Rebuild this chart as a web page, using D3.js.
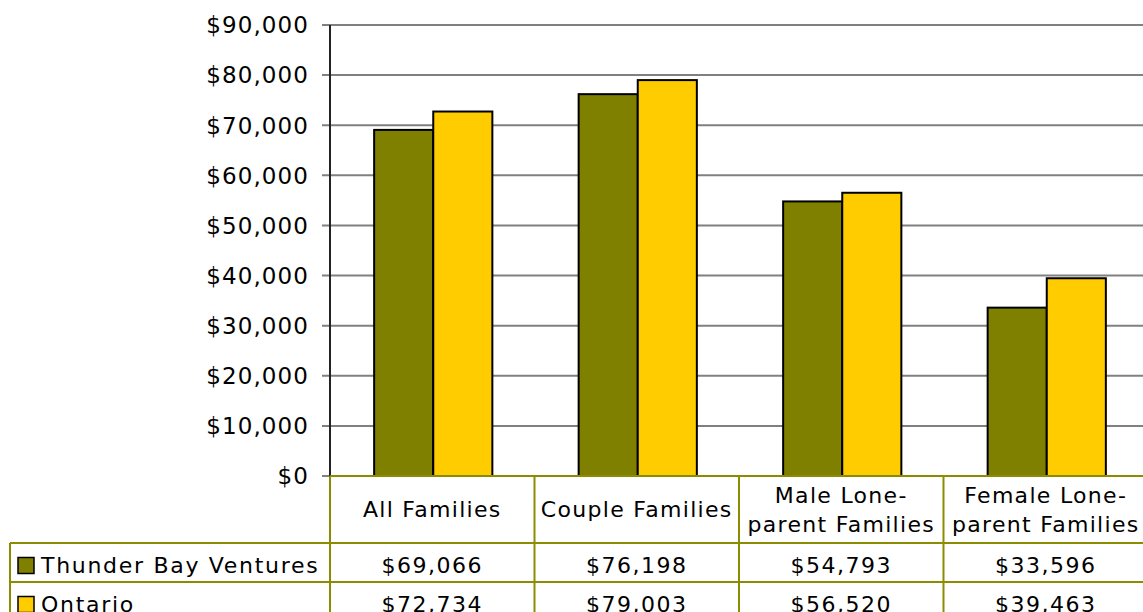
<!DOCTYPE html>
<html>
<head>
<meta charset="utf-8">
<script src="https://cdn.jsdelivr.net/npm/d3@7"></script>
<style>
  body { margin: 0; background: #fff; }
  svg text { font-family: "DejaVu Sans", Verdana, sans-serif; fill: #000; }
</style>
</head>
<body>
<div id="chart"></div>
<script>
// categories (header lines) and series
const categories = ["All Families", "Couple Families", "Male Lone-parent Families", "Female Lone-parent Families"];
const categoryLines = [["All Families"], ["Couple Families"], ["Male Lone-", "parent Families"], ["Female Lone-", "parent Families"]];
const seriesNames = ["Thunder Bay Ventures", "Ontario"];
const thunderBay = [69066, 76198, 54793, 33596];
const ontario = [72734, 79003, 56520, 39463];
const yTicks = [0, 10000, 20000, 30000, 40000, 50000, 60000, 70000, 80000, 90000];

const colors = ["#808000", "#ffcc00"];
const tableColor = "#8c8c00";

const W = 1143, H = 612;
const plot = {left: 330, top: 25, right: 1148, bottom: 476};

const svg = d3.select("#chart").append("svg")
  .attr("width", W)
  .attr("height", H);

const x = d3.scaleBand()
  .domain(categories)
  .range([plot.left, plot.right])
  .paddingInner(0)
  .paddingOuter(0);

const x1 = d3.scaleBand()
  .domain(seriesNames)
  .range([0, x.bandwidth()])
  .paddingOuter(0.73)
  .paddingInner(0);

const y = d3.scaleLinear()
  .domain([0, 90000])
  .range([plot.bottom, plot.top]);

// gridlines
svg.append("g")
  .selectAll("line")
  .data(yTicks)
  .join("line")
  .attr("x1", plot.left - 8)
  .attr("x2", plot.right)
  .attr("y1", d => y(d))
  .attr("y2", d => y(d))
  .attr("stroke", "#808080")
  .attr("stroke-width", 2);

// y axis labels
const fmt = d3.format(",");
svg.append("g")
  .selectAll("text")
  .data(yTicks)
  .join("text")
  .attr("x", plot.left - 21)
  .attr("y", d => y(d))
  .attr("dy", "0.36em")
  .attr("text-anchor", "end")
  .attr("font-size", 23)
  .attr("letter-spacing", 1.1)
  .text(d => "$" + fmt(d));

// bars
const series = [thunderBay, ontario];
const barG = svg.append("g");
series.forEach(function (vals, si) {
  barG.selectAll("rect.s" + si)
    .data(vals)
    .join("rect")
    .attr("class", "s" + si)
    .attr("x", (d, i) => x(categories[i]) + x1(seriesNames[si]) + 1)
    .attr("width", x1.bandwidth())
    .attr("y", d => y(d))
    .attr("height", d => y(0) - y(d))
    .attr("fill", colors[si])
    .attr("stroke", "#000")
    .attr("stroke-width", 2);
});

// y axis line
svg.append("line")
  .attr("x1", plot.left).attr("x2", plot.left)
  .attr("y1", plot.top).attr("y2", plot.bottom)
  .attr("stroke", "#222")
  .attr("stroke-width", 2);

// data table
const headerBottom = 543;
const rowH = 39;
const legendLeft = 10;
const table = svg.append("g");

// header cells
categories.forEach(function (c, i) {
  const cx = x(c) + x.bandwidth() / 2;
  const lines = categoryLines[i];
  const centerY = (plot.bottom + headerBottom) / 2;
  const lh = 29;
  lines.forEach(function (ln, li) {
    table.append("text")
      .attr("x", cx)
      .attr("y", centerY + (li - (lines.length - 1) / 2) * lh)
      .attr("dy", "0.36em")
      .attr("text-anchor", "middle")
      .attr("font-size", 22)
      .attr("letter-spacing", 1.3)
      .text(ln);
  });
});

// value rows
series.forEach(function (vals, si) {
  const top = headerBottom + si * rowH;
  const cy = top + rowH / 2 + 3;
  // legend swatch
  table.append("rect")
    .attr("x", 18)
    .attr("y", cy - 8)
    .attr("width", 16)
    .attr("height", 16)
    .attr("fill", colors[si])
    .attr("stroke", "#000")
    .attr("stroke-width", 1.5);
  table.append("text")
    .attr("x", 41)
    .attr("y", cy)
    .attr("dy", "0.36em")
    .attr("font-size", 22)
    .attr("letter-spacing", 1.7)
    .text(seriesNames[si]);
  vals.forEach(function (v, i) {
    table.append("text")
      .attr("x", x(categories[i]) + x.bandwidth() / 2)
      .attr("y", cy)
      .attr("dy", "0.36em")
      .attr("text-anchor", "middle")
      .attr("font-size", 22)
      .attr("letter-spacing", 1.5)
      .text("$" + fmt(v));
  });
});

// table borders
const tableBottom = headerBottom + 2 * rowH;
const hLines = [
  {x1: plot.left, x2: plot.right, y: plot.bottom},
  {x1: legendLeft, x2: plot.right, y: headerBottom},
  {x1: legendLeft, x2: plot.right, y: headerBottom + rowH},
  {x1: legendLeft, x2: plot.right, y: tableBottom}
];
table.selectAll("line.h")
  .data(hLines)
  .join("line")
  .attr("class", "h")
  .attr("x1", d => d.x1).attr("x2", d => d.x2)
  .attr("y1", d => d.y).attr("y2", d => d.y)
  .attr("stroke", tableColor)
  .attr("stroke-width", 2);

const vLines = categories.map(c => ({x: x(c), y1: plot.bottom, y2: tableBottom + 20}))
  .concat([{x: legendLeft, y1: headerBottom, y2: tableBottom + 20}]);
table.selectAll("line.v")
  .data(vLines)
  .join("line")
  .attr("class", "v")
  .attr("x1", d => d.x).attr("x2", d => d.x)
  .attr("y1", d => d.y1).attr("y2", d => d.y2)
  .attr("stroke", tableColor)
  .attr("stroke-width", 2);
</script>
</body>
</html>
